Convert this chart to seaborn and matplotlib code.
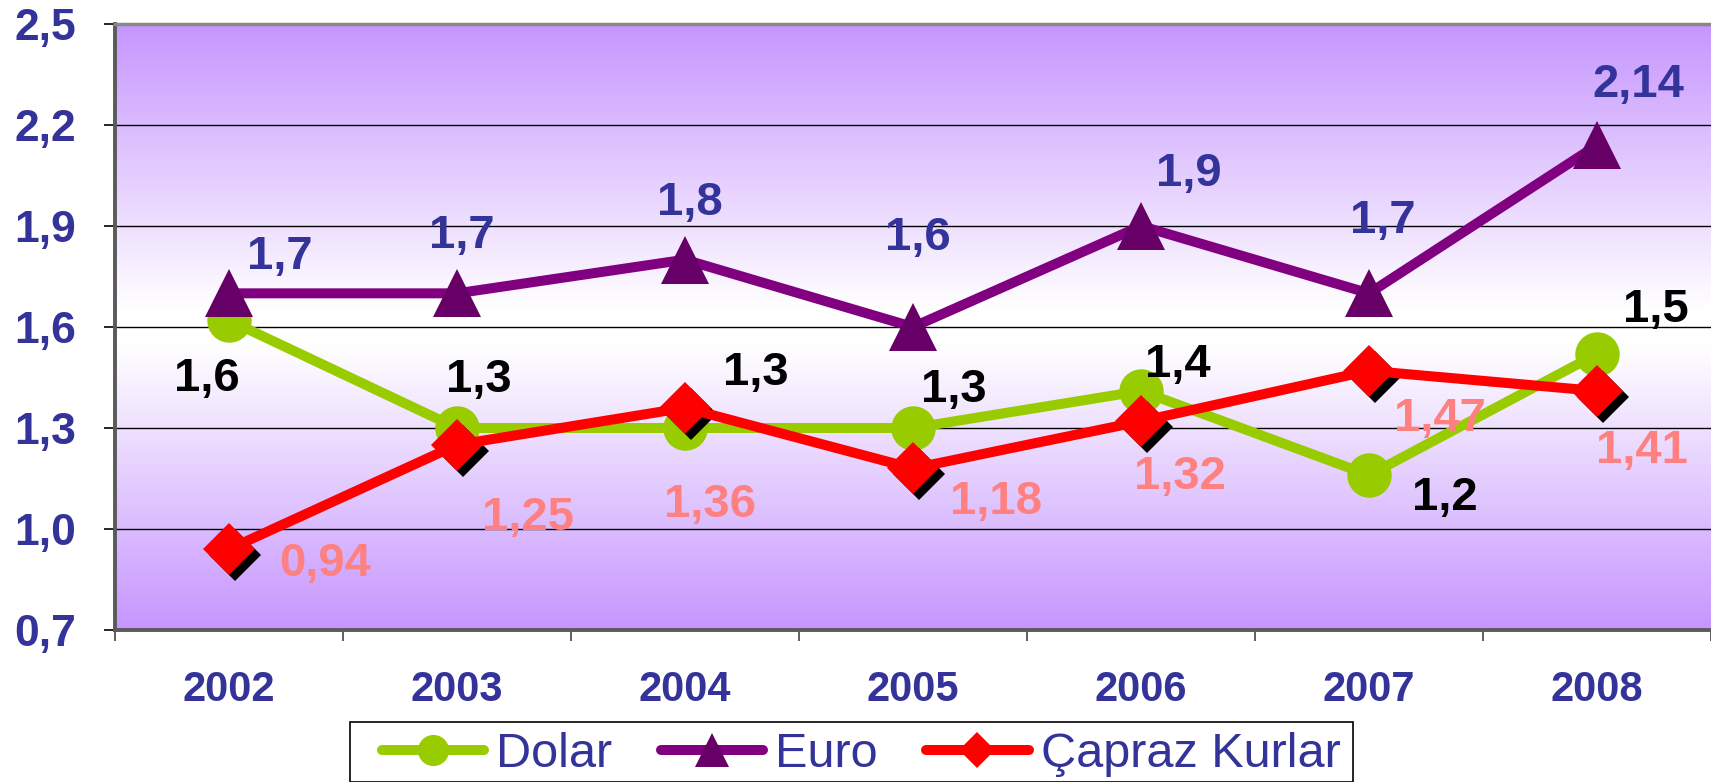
import numpy as np
import pandas as pd
import matplotlib
matplotlib.use("Agg")
import matplotlib.pyplot as plt
import matplotlib.transforms as mtransforms
from matplotlib.colors import LinearSegmentedColormap
from matplotlib.patches import Rectangle
import seaborn as sns

# ---------------- data ----------------
years = ["2002", "2003", "2004", "2005", "2006", "2007", "2008"]
dolar = [1.62, 1.30, 1.30, 1.30, 1.41, 1.16, 1.52]
euro = [1.70, 1.70, 1.80, 1.60, 1.90, 1.70, 2.14]
capraz = [0.94, 1.25, 1.36, 1.18, 1.32, 1.47, 1.41]
dolar_labels = ["1,6", "1,3", "1,3", "1,3", "1,4", "1,2", "1,5"]
euro_labels = ["1,7", "1,7", "1,8", "1,6", "1,9", "1,7", "2,14"]
capraz_labels = ["0,94", "1,25", "1,36", "1,18", "1,32", "1,47", "1,41"]
series_names = ["Dolar", "Euro", "Çapraz Kurlar"]
yticks = [0.7, 1.0, 1.3, 1.6, 1.9, 2.2, 2.5]
ytick_labels = ["0,7", "1,0", "1,3", "1,6", "1,9", "2,2", "2,5"]

# label offsets (pixels, dx right, dy down)
dolar_off = [(-22, 59), (22, -48), (71, -55), (41, -38), (37, -26), (76, 23), (59, -44)]
euro_off = [(51, -36), (5, -57), (5, -57), (5, -89), (48, -52), (14, -72), (41, -60)]
capraz_off = [(96, 15), (71, 73), (25, 97), (83, 34), (39, 56), (71, 48), (45, 60)]

sns.set_theme(style="white")
plt.rcParams["font.family"] = ["Liberation Sans", "DejaVu Sans"]

W, H = 1711, 782
fig = plt.figure(figsize=(W / 100, H / 100), dpi=100)
left, top, bottom = 115, 24, 630
ax = fig.add_axes([left / W, 1 - bottom / H, (W - left) / W, (bottom - top) / H])

x = np.arange(len(years))
df = pd.DataFrame({"x": np.concatenate([x, x, x]),
                   "y": dolar + euro + capraz,
                   "series": np.repeat(series_names, len(years))})

# background gradient
cmap = LinearSegmentedColormap.from_list(
    "bg", [(0.0, "#C696FE"), (0.47, "#FFFFFF"), (0.53, "#FFFFFF"), (1.0, "#C696FE")])
grad = np.linspace(0, 1, 256).reshape(-1, 1)
ax.imshow(grad, extent=[0, 1, 0, 1], transform=ax.transAxes, aspect="auto",
          cmap=cmap, zorder=0, interpolation="bicubic")

# gridlines
for v in yticks:
    ax.axhline(v, color="black", lw=1.0, zorder=1)

lw = 7.2
styles = {
    "Dolar": dict(color="#99CC00", marker="o", markersize=32, mfc="#99CC00", mec="#99CC00"),
    "Euro": dict(color="#800080", marker="^", markersize=34, mfc="#660066", mec="#660066"),
    "Çapraz Kurlar": dict(color="#FF0000", marker="D", markersize=26, mfc="#FF0000", mec="#FF0000"),
}

for i, name in enumerate(series_names):
    sub = df[df["series"] == name]
    st = styles[name]
    if name == "Çapraz Kurlar":
        shadow_tr = mtransforms.offset_copy(ax.transData, fig=fig, x=6, y=-6, units="dots")
        ax.plot(sub["x"], sub["y"], linestyle="none", marker="D", markersize=st["markersize"],
                mfc="black", mec="black", mew=0, transform=shadow_tr, zorder=3 + i)
    sns.lineplot(data=sub, x="x", y="y", ax=ax, color=st["color"], linewidth=lw,
                 marker=st["marker"], markersize=st["markersize"],
                 markerfacecolor=st["mfc"], markeredgecolor=st["mec"], markeredgewidth=0,
                 label=name, zorder=3 + i, solid_capstyle="round", solid_joinstyle="round")

def put_labels(vals, labels, offs, color):
    for xi, (v, t, (dx, dy)) in enumerate(zip(vals, labels, offs)):
        ax.annotate(t, (xi, v), xytext=(dx, -dy), textcoords="offset pixels",
                    ha="center", va="center", fontsize=34, fontweight="bold",
                    color=color, zorder=10)

put_labels(euro, euro_labels, euro_off, "#333399")
put_labels(dolar, dolar_labels, dolar_off, "black")
put_labels(capraz, capraz_labels, capraz_off, "#FF8080")

ax.set_xlim(-0.5, len(years) - 0.5)
ax.set_ylim(0.7, 2.5)
ax.set_yticks(yticks)
ax.set_yticklabels(ytick_labels)
ax.set_xticks(x)
ax.set_xticklabels(years)
ax.set_xticks(np.arange(-0.5, len(years), 1.0), minor=True)
ax.set_xlabel("")
ax.set_ylabel("")
ax.tick_params(axis="y", which="major", left=True, length=8, width=1.2, color="black",
               pad=20, labelsize=32, labelcolor="#333399")
for lab in ax.get_yticklabels():
    lab.set_fontweight("bold")
ax.tick_params(axis="x", which="major", bottom=False, length=0, pad=29,
               labelsize=30, labelcolor="#333399")
ax.tick_params(axis="x", which="minor", bottom=True, length=8, width=1.2, color="#444444")
for lab in ax.get_xticklabels():
    lab.set_fontweight("bold")

for s in ["left", "bottom"]:
    ax.spines[s].set_visible(True)
    ax.spines[s].set_color("#5a5a5a")
    ax.spines[s].set_linewidth(2.8)
ax.spines["top"].set_visible(True)
ax.spines["top"].set_color("#888888")
ax.spines["top"].set_linewidth(2.5)
ax.spines["right"].set_visible(False)

if ax.legend_:
    ax.legend_.remove()
handles, labels = ax.get_legend_handles_labels()

# legend frame (drawn in figure pixels)
fig.patches.append(Rectangle((350 / W, 0), (1353 - 350) / W, 1 - 722 / H,
                             transform=fig.transFigure, facecolor="white",
                             edgecolor="black", linewidth=1.2, zorder=0))
leg = fig.legend(handles, labels, loc="upper left",
                 bbox_to_anchor=(382 / W, 1 - 732 / H), bbox_transform=fig.transFigure,
                 ncol=3, frameon=False, borderaxespad=0, borderpad=0,
                 handlelength=2.1, handletextpad=0.25, columnspacing=1.0,
                 markerscale=0.7, prop={"size": 35})
for t in leg.get_texts():
    t.set_color("#333399")

fig.savefig("out.png", dpi=100)
